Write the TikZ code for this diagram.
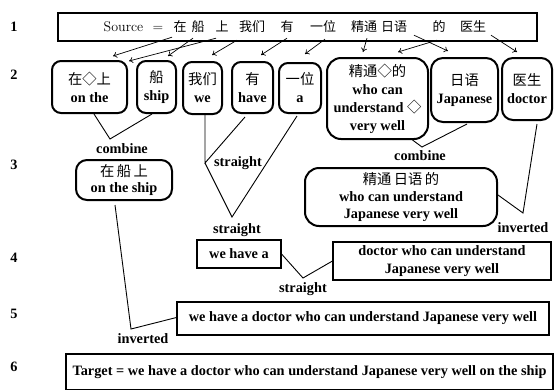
\documentclass[tikz,border=0pt]{standalone}
\usepackage{fontspec}
\setmainfont{Liberation Serif}
\newfontfamily\cjk{Noto Sans CJK SC}
\newfontfamily\lmr{Latin Modern Roman}
\usetikzlibrary{calc,arrows.meta}
\newcommand\zhtxt[1]{{\cjk\mdseries #1}}
\begin{document}
\begin{tikzpicture}[x=1pt,y=-1pt,
  every node/.style={inner sep=1pt, font=\fontsize{14.3}{18}\selectfont\bfseries, align=center},
  rbox/.style={draw, line width=2pt, rounded corners=9pt, inner sep=2pt},
  sbox/.style={draw, line width=1.1pt, inner sep=2pt},
  con/.style={line width=0.9pt},
  arr/.style={line width=0.7pt, -{To[length=4pt,width=6pt]}},
  lbl/.style={inner sep=0pt},
  wd/.style={inner sep=0pt, font=\cjk\fontsize{13}{16}\selectfont\mdseries, text height=11pt, text depth=3pt},
]
\useasboundingbox (0,0) rectangle (555,389);

% row numbers
\foreach \n/\yy in {1/27,2/75,3/165,4/258,5/314,6/367}
  \node[lbl] (row\n) at (14,\yy) {\n};

% source line
\node[sbox, minimum width=479pt, minimum height=28pt] (src) at (297.5,27) {};
\node[wd, font=\lmr\fontsize{14}{18}\selectfont] (wsrc) at (123.5,27) {Source};
\node[wd, font=\lmr\fontsize{14}{18}\selectfont] (weq) at (158,27) {=};
\node[wd] (wzai) at (180,27) {在};
\node[wd] (wchuan) at (198,27) {船};
\node[wd] (wshang) at (222,27) {上};
\node[wd] (wwomen) at (252,27) {我们};
\node[wd] (wyou) at (287,27) {有};
\node[wd] (wyiwei) at (323,27) {一位};
\node[wd] (wjt) at (364,27) {精通};
\node[wd] (wry) at (394,27) {日语};
\node[wd] (wde) at (439,27) {的};
\node[wd] (wys) at (473,27) {医生};

% row 2
\node[rbox, minimum width=75pt, minimum height=52pt] (n1) at (89.5,87) {\zhtxt{在◇上}\\on the};
\node[rbox, minimum width=39pt, minimum height=52pt] (n2) at (156.5,87) {\zhtxt{船}\\ship};
\node[rbox, minimum width=39pt, minimum height=52pt] (n3) at (202.5,88) {\zhtxt{我们}\\we};
\node[rbox, minimum width=41pt, minimum height=51pt] (n4) at (252.5,87.5) {\zhtxt{有}\\have};
\node[rbox, minimum width=42pt, minimum height=50pt] (n5) at (300,88) {\zhtxt{一位}\\a};
\node[rbox, minimum width=101pt, minimum height=81pt, rounded corners=14pt] (n6) at (377.5,98.5) {\zhtxt{精通◇的}\\who can\\understand \zhtxt{◇}\\very well};
\node[rbox, minimum width=67pt, minimum height=64pt, rounded corners=12pt] (n7) at (464.5,90) {\zhtxt{日语}\\Japanese};
\node[rbox, minimum width=50pt, minimum height=62pt, rounded corners=11pt] (n8) at (527,89) {\zhtxt{医生}\\doctor};

% row 3
\node[rbox, minimum width=96pt, minimum height=40pt, rounded corners=11pt, font=\fontsize{14.3}{16}\selectfont\bfseries] (n9) at (124,180) {\zhtxt{在\,船\,上}\\on the ship};
\node[rbox, minimum width=192pt, minimum height=58pt, rounded corners=14pt, font=\fontsize{14.3}{17}\selectfont\bfseries] (n10) at (401,197) {\zhtxt{精通\,日语\,的}\\who can understand\\Japanese very well};

% row 4
\node[sbox, minimum width=84pt, minimum height=28pt] (wha) at (239,254) {we have a};
\node[sbox, minimum width=218pt, minimum height=38pt] (dr) at (442,261) {doctor who can understand\\Japanese very well};

% row 5
\node[sbox, minimum width=372pt, minimum height=33pt] (r5) at (363,318.5) {we have a doctor who can understand Japanese very well};

% row 6
\begin{scope}
\clip (0,0) rectangle (555,389);
\node[sbox, minimum width=487pt, minimum height=36pt] (tgt) at (309.5,372) {Target = we have a doctor who can understand Japanese very well on the ship};
\end{scope}

% arrows from source words
\draw[arr] ($(wzai.south)+(-8,3)$) -- ($(n1.north)+(23.5,-4)$);
\draw[arr] ($(wchuan.south)+(-5,4)$) -- ($(n2.north)+(11.5,-4)$);
\draw[arr] ($(wshang.south)+(-6,4)$) -- ($(n1.north east)+(1,1)$);
\draw[arr] ($(wwomen.south)+(-15,6)$) -- ($(n3.north)+(9.5,-6)$);
\draw[arr] ($(wyou.south)+(0,4)$) -- ($(n4.north)+(8.5,-6)$);
\draw[arr] ($(wyiwei.south)+(2,5)$) -- ($(n5.north)+(5,-8)$);
\draw[arr] ($(wjt.south)+(3,4)$) -- ($(n6.north)+(-14.5,-5)$);
\draw[arr] ($(wde.south)+(-2,6)$) -- ($(n6.north)+(20.5,-5)$);
\draw[arr] ($(wry.south)+(20,1)$) -- ($(n7.north)+(-16.5,-6)$);
\draw[arr] ($(wys.south)+(18,1)$) -- ($(n8.north)+(-10,-5)$);

% connectors
\coordinate (v1) at (110,139);
\draw[con] ($(n1.south)+(4.5,0)$) -- (v1) -- ($(n2.south)+(-4.5,0)$);
\node[lbl] (l1) at (122,149) {combine};

\coordinate (v2) at (205,163);
\draw[con] ($(n3.south)+(2.5,0)$) -- (v2) -- ($(n4.south)+(-7.5,3)$);
\node[lbl] (l2) at (238,163) {straight};

\coordinate (v3) at (232,217);
\draw[con] (v2) -- (v3) -- ($(n5.south)+(-3,2)$);
\node[lbl] (l3) at (237,230) {straight};

\coordinate (v4) at (422,147);
\draw[con] ($(n6.south)+(35,0)$) -- (v4) -- ($(n7.south)+(2.5,1)$);
\node[lbl] (l4) at (420,156) {combine};

\coordinate (v5) at (523,213);
\draw[con] ($(n10.east)+(0,-2)$) -- (v5) -- ($(n8.south)+(10,3)$);
\node[lbl] (l5) at (523,228) {inverted};

\coordinate (v6) at (303,278);
\draw[con] (wha.east) -- (v6) -- (dr.west);
\node[lbl] (l6) at (303,289) {straight};

\coordinate (v7) at (131,329);
\draw[con] ($(n9.south)+(-9,4)$) -- (v7) -- ($(r5.west)+(0,-1)$);
\node[lbl] (l7) at (143,339) {inverted};
\end{tikzpicture}
\end{document}
